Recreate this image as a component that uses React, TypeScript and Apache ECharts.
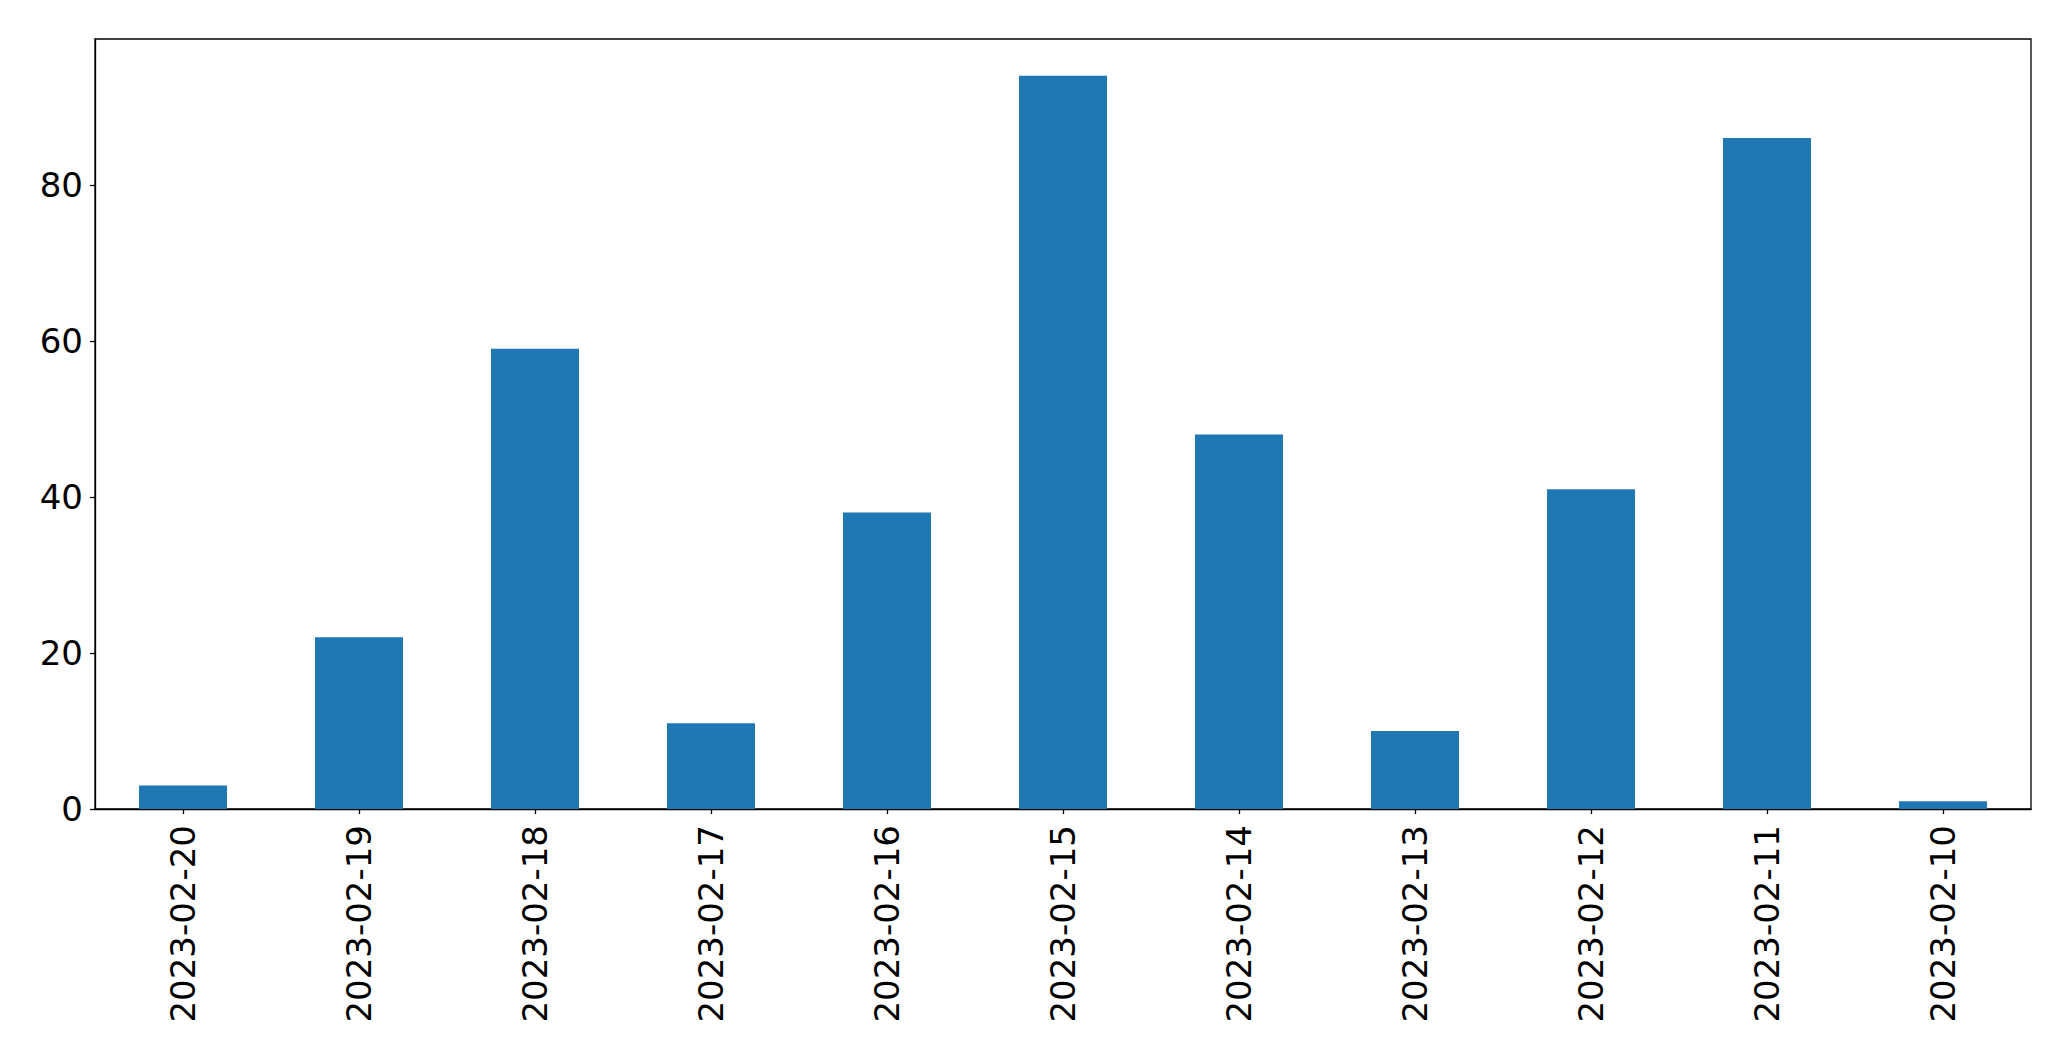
import React, { useEffect, useRef } from "react";
import * as echarts from "echarts";

const categories = [
  "2023-02-20", "2023-02-19", "2023-02-18", "2023-02-17", "2023-02-16", "2023-02-15",
  "2023-02-14", "2023-02-13", "2023-02-12", "2023-02-11", "2023-02-10",
];
const values = [3, 22, 59, 11, 38, 94, 48, 10, 41, 86, 1];
const yTicks = [0, 20, 40, 60, 80];
const yMax = 98.7;

export default function App() {
  const ref = useRef<HTMLDivElement>(null);
  useEffect(() => {
    if (!ref.current) return;
    const chart = echarts.init(ref.current, null, { renderer: "svg" });
    const font = "DejaVu Sans";
    chart.setOption({
      animation: false,
      backgroundColor: "#ffffff",
      grid: {
        left: 95,
        top: 39,
        right: 40,
        bottom: 252,
        show: true,
        borderColor: "#000000",
        borderWidth: 1.3,
        backgroundColor: "transparent",
      },
      xAxis: {
        type: "category",
        data: categories,
        boundaryGap: true,
        axisLine: { show: true, lineStyle: { color: "#000", width: 1.3 } },
        axisTick: { show: true, alignWithLabel: true, length: 5, lineStyle: { color: "#000", width: 1.3 } },
        axisLabel: {
          rotate: 90,
          interval: 0,
          margin: 16,
          color: "#000",
          fontFamily: font,
          fontSize: 34,
        },
        splitLine: { show: false },
      },
      yAxis: {
        type: "value",
        min: 0,
        max: yMax,
        interval: 20,
        axisLine: { show: true, lineStyle: { color: "#000", width: 1.3 } },
        axisTick: { show: true, length: 5, customValues: yTicks, lineStyle: { color: "#000", width: 1.3 } },
        axisLabel: {
          customValues: yTicks,
          margin: 12,
          color: "#000",
          fontFamily: font,
          fontSize: 34,
        },
        splitLine: { show: false },
      },
      series: [
        {
          type: "bar",
          data: values,
          barWidth: "50%",
          itemStyle: { color: "#1f77b4" },
        },
      ],
    });
    return () => chart.dispose();
  }, []);
  return (
    <div
      ref={ref}
      style={{ position: "absolute", left: 0, top: 0, width: 2071, height: 1061 }}
    />
  );
}
